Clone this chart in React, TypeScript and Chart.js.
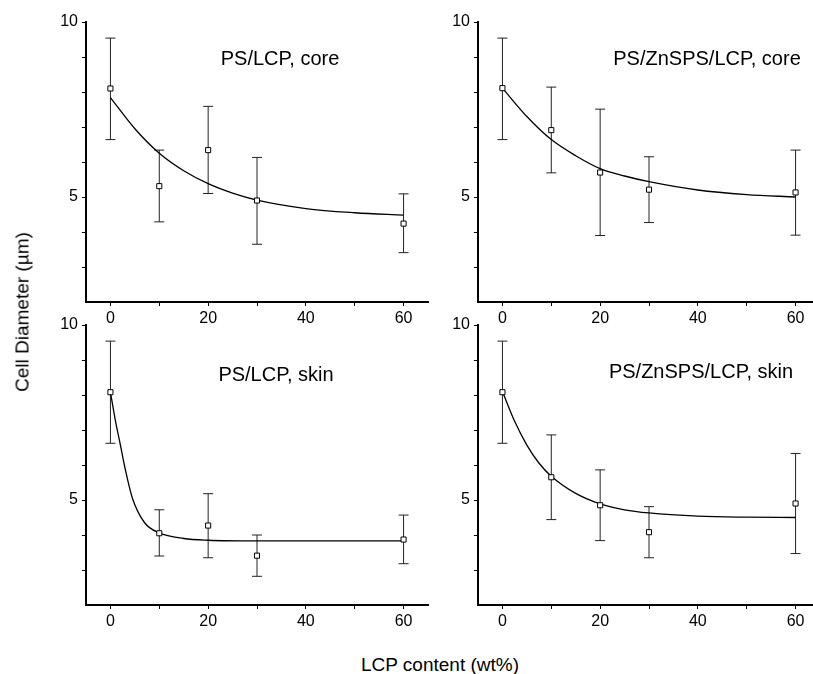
import React, { useEffect, useRef } from "react";
import { Chart, registerables } from "chart.js";

Chart.register(...registerables);

const FONT = '"Liberation Sans", Arial, Helvetica, sans-serif';

// LCP content (wt%) of the measured samples
const xValues = [0, 10, 20, 30, 60];
const xTickValues = [0, 10, 20, 30, 40, 50, 60];
const xLabelValues = [0, 20, 40, 60];
const yTickValues = [3, 4, 5, 6, 7, 8, 9, 10];
const yLabelValues = [5, 10];

// PS/LCP, core
const coreLcpY = [8.1, 5.31, 6.34, 4.9, 4.24];
const coreLcpLow = [6.64, 4.29, 5.1, 3.65, 3.41];
const coreLcpHigh = [9.54, 6.34, 7.59, 6.13, 5.09];
const coreLcpFitX = [0, 5, 10, 15, 20, 25, 30, 40, 50, 60];
const coreLcpFitY = [7.84, 6.95, 6.25, 5.75, 5.38, 5.11, 4.91, 4.67, 4.55, 4.48];

// PS/ZnSPS/LCP, core
const coreZnY = [8.11, 6.91, 5.7, 5.21, 5.13];
const coreZnLow = [6.64, 5.69, 3.9, 4.27, 3.91];
const coreZnHigh = [9.54, 8.14, 7.51, 6.15, 6.34];
const coreZnFitX = [0, 5, 10, 15, 20, 25, 30, 40, 50, 60];
const coreZnFitY = [8.11, 7.3, 6.64, 6.18, 5.81, 5.6, 5.44, 5.2, 5.07, 5.0];

// PS/LCP, skin
const skinLcpY = [8.08, 4.05, 4.27, 3.41, 3.87];
const skinLcpLow = [6.62, 3.4, 3.35, 2.82, 3.18];
const skinLcpHigh = [9.54, 4.72, 5.18, 4.0, 4.57];
const skinLcpFitX = [0, 1, 2, 3, 4.5, 7, 10, 15, 20, 30, 45, 60];
const skinLcpFitY = [8.08, 7.28, 6.6, 5.9, 5.05, 4.35, 4.06, 3.9, 3.85, 3.83, 3.83, 3.83];

// PS/ZnSPS/LCP, skin
const skinZnY = [8.08, 5.65, 4.85, 4.08, 4.9];
const skinZnLow = [6.62, 4.44, 3.84, 3.35, 3.47];
const skinZnHigh = [9.54, 6.86, 5.86, 4.81, 6.33];
const skinZnFitX = [0, 2.5, 5, 7.5, 10, 15, 20, 25, 30, 40, 50, 60];
const skinZnFitY = [8.1, 7.25, 6.57, 6.05, 5.68, 5.19, 4.89, 4.72, 4.63, 4.54, 4.51, 4.5];

type PanelCfg = {
  left: number;
  top: number;
  y: number[];
  lo: number[];
  hi: number[];
  fitX: number[];
  fitY: number[];
  title: string;
  titleDx: number;
  titleDy: number;
};

const panels: PanelCfg[] = [
  { left: 0, top: 0, y: coreLcpY, lo: coreLcpLow, hi: coreLcpHigh, fitX: coreLcpFitX, fitY: coreLcpFitY, title: "PS/LCP, core", titleDx: 194, titleDy: 43 },
  { left: 392, top: 0, y: coreZnY, lo: coreZnLow, hi: coreZnHigh, fitX: coreZnFitX, fitY: coreZnFitY, title: "PS/ZnSPS/LCP, core", titleDx: 229, titleDy: 43 },
  { left: 0, top: 303, y: skinLcpY, lo: skinLcpLow, hi: skinLcpHigh, fitX: skinLcpFitX, fitY: skinLcpFitY, title: "PS/LCP, skin", titleDx: 190, titleDy: 56 },
  { left: 392, top: 303, y: skinZnY, lo: skinZnLow, hi: skinZnHigh, fitX: skinZnFitX, fitY: skinZnFitY, title: "PS/ZnSPS/LCP, skin", titleDx: 223, titleDy: 53 },
];

const CW = 440;
const CH = 330;

const panelTitlePlugin = {
  id: "panelTitle",
  afterDraw(chart: any, _args: any, opts: any) {
    const { ctx, chartArea } = chart;
    ctx.save();
    ctx.font = `20px ${FONT}`;
    ctx.fillStyle = "#000";
    ctx.textAlign = "center";
    ctx.textBaseline = "alphabetic";
    ctx.fillText(opts.text, chartArea.left + opts.dx, chartArea.top + opts.dy);
    ctx.restore();
  },
};

function makeChart(canvas: HTMLCanvasElement, p: PanelCfg) {
  const stems: any[] = [];
  const caps: any[] = [];
  xValues.forEach((x, i) => {
    stems.push({ x, y: p.lo[i] }, { x, y: p.hi[i] }, { x, y: null });
    caps.push({ x, y: p.lo[i] }, { x, y: p.hi[i] });
  });
  const pts = xValues.map((x, i) => ({ x, y: p.y[i] }));
  const fit = p.fitX.map((x, i) => ({ x, y: p.fitY[i] }));

  return new Chart(canvas, {
    type: "scatter",
    data: {
      datasets: [
        {
          type: "line",
          data: stems,
          borderColor: "#222",
          borderWidth: 1,
          pointRadius: 0,
          spanGaps: false,
          order: 3,
        } as any,
        {
          type: "scatter",
          data: caps,
          pointStyle: "line",
          pointRadius: 5,
          pointBorderColor: "#222",
          pointBorderWidth: 1,
          borderColor: "#222",
          borderWidth: 1,
          order: 2,
        } as any,
        {
          type: "line",
          data: fit,
          borderColor: "#000",
          borderWidth: 1.3,
          pointRadius: 0,
          cubicInterpolationMode: "monotone",
          order: 1,
        } as any,
        {
          type: "scatter",
          data: pts,
          pointStyle: "rect",
          pointRadius: 3.6,
          pointBackgroundColor: "#fff",
          backgroundColor: "#fff",
          pointBorderColor: "#000",
          borderColor: "#000",
          pointBorderWidth: 1,
          borderWidth: 1,
          order: 0,
        } as any,
      ],
    },
    options: {
      animation: false,
      responsive: false,
      events: [],
      layout: { padding: { top: 22, right: 12, left: 0, bottom: 0 } },
      plugins: {
        legend: { display: false },
        tooltip: { enabled: false },
        panelTitle: { text: p.title, dx: p.titleDx, dy: p.titleDy },
      } as any,
      scales: {
        x: {
          type: "linear",
          min: -5,
          max: 65,
          afterBuildTicks: (s: any) => {
            s.ticks = xTickValues.map((v) => ({ value: v }));
          },
          afterFit: (s: any) => {
            s.height = 28;
            s.paddingLeft = 0;
            s.paddingRight = 0;
          },
          grid: { drawOnChartArea: false, drawTicks: true, tickLength: 4, color: "#000", lineWidth: 1 },
          border: { display: true, color: "#000", width: 2 },
          ticks: {
            autoSkip: false,
            maxRotation: 0,
            padding: 3,
            color: "#000",
            font: { family: FONT, size: 16 },
            callback: (v: any) => (xLabelValues.includes(Number(v)) ? String(v) : ""),
          },
        },
        y: {
          type: "linear",
          min: 2,
          max: 10,
          afterBuildTicks: (s: any) => {
            s.ticks = yTickValues.map((v) => ({ value: v }));
          },
          afterFit: (s: any) => {
            s.width = 86;
            s.paddingTop = 0;
            s.paddingBottom = 0;
          },
          grid: { drawOnChartArea: false, drawTicks: true, tickLength: 4, color: "#000", lineWidth: 1 },
          border: { display: true, color: "#000", width: 2 },
          ticks: {
            autoSkip: false,
            padding: 4,
            color: "#000",
            font: { family: FONT, size: 16 },
            callback: (v: any) => (yLabelValues.includes(Number(v)) ? String(v) : ""),
          },
        },
      },
    } as any,
    plugins: [panelTitlePlugin],
  });
}

function Panel({ cfg }: { cfg: PanelCfg }) {
  const ref = useRef<HTMLCanvasElement | null>(null);
  useEffect(() => {
    if (!ref.current) return;
    const chart = makeChart(ref.current, cfg);
    return () => chart.destroy();
  }, [cfg]);
  return (
    <canvas
      ref={ref}
      width={CW}
      height={CH}
      style={{ position: "absolute", left: cfg.left, top: cfg.top, width: CW, height: CH }}
    />
  );
}

export default function App() {
  return (
    <div
      style={{
        position: "absolute",
        left: 0,
        top: 0,
        width: 813,
        height: 674,
        overflow: "hidden",
        background: "#fff",
        fontFamily: FONT,
      }}
    >
      {panels.map((p, i) => (
        <Panel key={i} cfg={p} />
      ))}
      <div
        style={{
          position: "absolute",
          left: 22,
          top: 312,
          transform: "translate(-50%, -50%) rotate(-90deg)",
          whiteSpace: "nowrap",
          fontSize: 19,
          lineHeight: 1,
          color: "#000",
        }}
      >
        Cell Diameter (µm)
      </div>
      <div
        style={{
          position: "absolute",
          left: 440,
          top: 664,
          transform: "translate(-50%, -50%)",
          whiteSpace: "nowrap",
          fontSize: 19,
          lineHeight: 1,
          color: "#000",
        }}
      >
        LCP content (wt%)
      </div>
    </div>
  );
}
